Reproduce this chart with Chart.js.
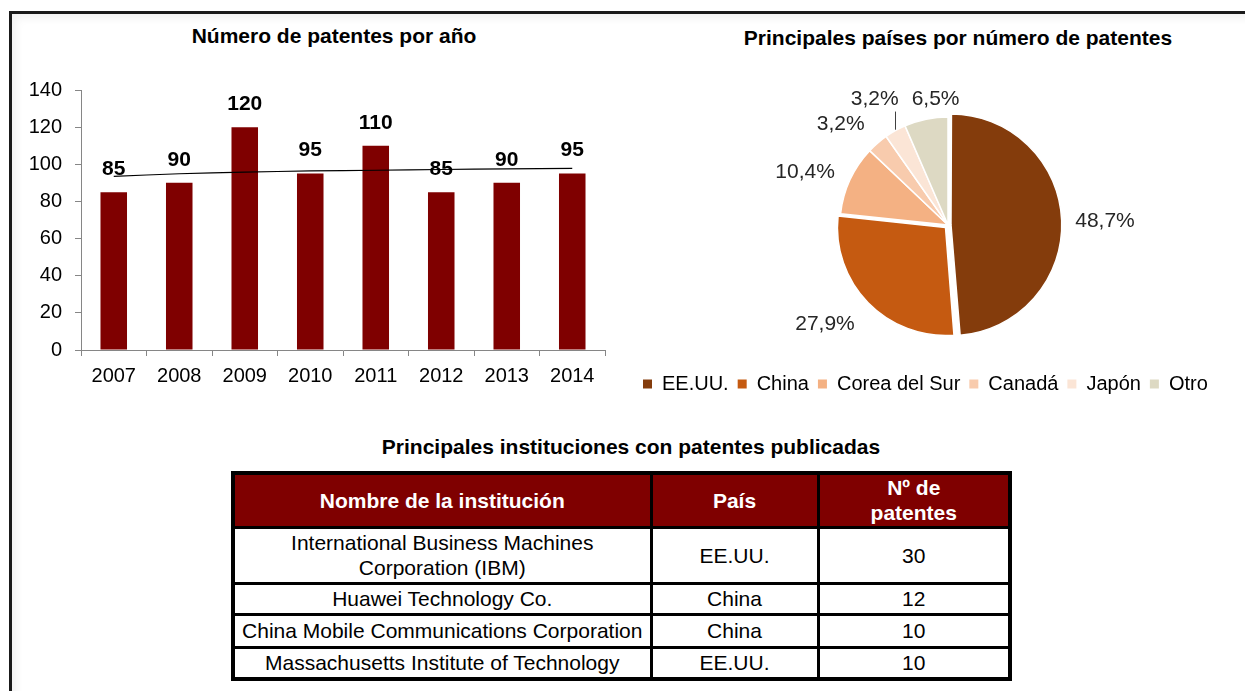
<!DOCTYPE html>
<html lang="es">
<head>
<meta charset="utf-8">
<title>Patentes</title>
<script src="https://cdn.jsdelivr.net/npm/chart.js@4.4.1/dist/chart.umd.min.js"></script>
<style>
  html, body { margin: 0; padding: 0; background: #fff; }
  body { width: 1245px; height: 691px; overflow: hidden; position: relative;
         font-family: "Liberation Sans", Arial, sans-serif; color: #000; }
  #frame { position: absolute; left: 9px; top: 11px; width: 1260px; height: 700px;
           border-top: 3px solid #1a1a1a; border-left: 3px solid #1a1a1a;
           box-shadow: inset 4px 4px 8px rgba(0, 0, 0, 0.06); }
  .title { position: absolute; width: 600px; text-align: center; font-weight: bold;
           font-size: 21px; line-height: 24px; white-space: nowrap; }
  .box { position: absolute; }
  table { position: absolute; left: 231px; top: 471px; width: 777px; border-collapse: collapse;
          border: 4px solid #000; font-size: 21px; table-layout: fixed; }
  th, td { border: 3px solid #000; text-align: center; padding: 0 1px; line-height: 25px;
           white-space: nowrap; }
  th { background: #7f0000; color: #fff; font-weight: bold; }
  td.wrap { white-space: normal; }
</style>
</head>
<body>
<div id="frame"></div>

<div class="title" style="left:34px; top:24px;">Número de patentes por año</div>
<div class="title" style="left:658px; top:26px;">Principales países por número de patentes</div>
<div class="title" style="left:331px; top:435px;">Principales instituciones con patentes publicadas</div>

<div class="box" style="left:20px; top:60px;"><canvas id="barChart" width="628" height="330"></canvas></div>
<div class="box" style="left:634px; top:60px;"><canvas id="pieChart" width="628" height="344"></canvas></div>

<table id="instTable">
  <colgroup><col style="width:418px"><col style="width:167px"><col style="width:192px"></colgroup>
  <thead>
    <tr style="height:54px"><th>Nombre de la institución</th><th>País</th><th>Nº de<br>patentes</th></tr>
  </thead>
  <tbody id="instBody"></tbody>
</table>

<script>
// Número de patentes por año
const years = ['2007', '2008', '2009', '2010', '2011', '2012', '2013', '2014'];
const patents = [85, 90, 120, 95, 110, 85, 90, 95];
const trend = [93.5, 94.9, 95.8, 96.4, 96.8, 97.2, 97.5, 97.8]; // línea de tendencia
const yTicks = [0, 20, 40, 60, 80, 100, 120, 140];

// Principales países
const countries = ['EE.UU.', 'China', 'Corea del Sur', 'Canadá', 'Japón', 'Otro'];
const shares = [48.7, 27.9, 10.4, 3.2, 3.2, 6.5];

// Principales instituciones
const institutions = [
    'International Business Machines Corporation (IBM)',
    'Huawei Technology Co.',
    'China Mobile Communications Corporation',
    'Massachusetts Institute of Technology'
];
const instCountries = ['EE.UU.', 'China', 'China', 'EE.UU.'];
const instPatents = [30, 12, 10, 10];

const FONT = '"Liberation Sans", Arial, sans-serif';
Chart.defaults.font.family = FONT;
Chart.defaults.color = '#000';
Chart.defaults.animation = false;

const maroon = '#7f0000';
const axisGrey = '#868686';
const pieColors = ['#843c0c', '#c55a11', '#f4b183', '#f8cbad', '#fbe5d6', '#ddd9c3'];

// valores encima de cada barra
const barLabels = {
    id: 'barLabels',
    afterDatasetsDraw(chart) {
        const ctx = chart.ctx;
        const meta = chart.getDatasetMeta(0);
        ctx.save();
        ctx.font = 'bold 21px ' + FONT;
        ctx.fillStyle = '#000';
        ctx.textAlign = 'center';
        ctx.textBaseline = 'middle';
        meta.data.forEach((bar, i) => {
            ctx.fillText(String(patents[i]), bar.x, bar.y - 23);
        });
        ctx.restore();
    }
};

new Chart(document.getElementById('barChart'), {
    data: {
        labels: years,
        datasets: [
            {
                type: 'bar',
                data: patents,
                backgroundColor: maroon,
                categoryPercentage: 1,
                barPercentage: 0.405,
                order: 1
            },
            {
                type: 'line',
                data: trend,
                borderColor: '#000',
                borderWidth: 1.2,
                pointRadius: 0,
                tension: 0.3,
                fill: false,
                order: 0
            }
        ]
    },
    options: {
        responsive: false,
        layout: { padding: { top: 30, right: 43, left: 0, bottom: 0 } },
        plugins: { legend: { display: false }, tooltip: { enabled: false } },
        scales: {
            x: {
                offset: true,
                grid: { offset: true, drawOnChartArea: false, tickLength: 6, color: axisGrey },
                border: { color: axisGrey },
                ticks: { font: { size: 20 }, padding: 8, autoSkip: false, maxRotation: 0 },
                afterFit: s => { s.height = 40; }
            },
            y: {
                min: yTicks[0],
                max: yTicks[yTicks.length - 1],
                afterBuildTicks: s => { s.ticks = yTicks.map(v => ({ value: v })); },
                grid: { drawOnChartArea: false, tickLength: 6, color: axisGrey },
                border: { color: axisGrey },
                ticks: { font: { size: 20 }, padding: 13 },
                afterFit: s => { s.width = 61; }
            }
        }
    },
    plugins: [barLabels]
});

// porcentajes alrededor de la tarta
const pieLabels = {
    id: 'pieLabels',
    afterDatasetsDraw(chart, args, opts) {
        const ctx = chart.ctx;
        const meta = chart.getDatasetMeta(0);
        ctx.save();
        ctx.font = '21px ' + FONT;
        ctx.fillStyle = '#262626';
        ctx.strokeStyle = '#404040';
        ctx.lineWidth = 1;
        ctx.textAlign = 'center';
        ctx.textBaseline = 'middle';
        meta.data.forEach((arc, i) => {
            const p = arc.getProps(['x', 'y', 'startAngle', 'endAngle', 'outerRadius', 'circumference'], true);
            const mid = (p.startAngle + p.endAngle) / 2;
            const cos = Math.cos(mid), sin = Math.sin(mid);
            const off = (arc.options.offset || 0) / 4;
            const shift = off * (2 - Math.sin(Math.min(Math.PI, p.circumference)));
            const cx = p.x + cos * shift, cy = p.y + sin * shift;
            const text = shares[i].toFixed(1).replace('.', ',') + '%';
            const w = ctx.measureText(text).width;
            const r = p.outerRadius + opts.gap;
            const n = opts.nudges[i] || [0, 0];
            const lx = cx + r * cos + (w / 2) * cos + n[0];
            const ly = cy + r * sin + 10.5 * sin + n[1];
            ctx.fillText(text, lx, ly);
            if (opts.leaders.includes(i)) {
                const ex = cx + p.outerRadius * cos;
                const ey = cy + p.outerRadius * sin;
                ctx.beginPath();
                ctx.moveTo(Math.round(ex) + 0.5, ey - 1);
                ctx.lineTo(Math.round(ex) + 0.5, ly + 12);
                ctx.stroke();
            }
        });
        ctx.restore();
    }
};

new Chart(document.getElementById('pieChart'), {
    type: 'pie',
    data: {
        labels: countries,
        datasets: [{
            data: shares,
            backgroundColor: pieColors,
            borderColor: '#fff',
            borderWidth: 1.5,
            offset: [12, 14, 0, 0, 0, 0],
            radius: 108
        }]
    },
    options: {
        responsive: false,
        layout: { padding: { top: 25 } },
        plugins: {
            tooltip: { enabled: false },
            legend: {
                position: 'bottom',
                align: 'start',
                labels: {
                    boxWidth: 9,
                    boxHeight: 9,
                    padding: 9,
                    font: { size: 20 },
                    generateLabels: chart => Chart.overrides.pie.plugins.legend.labels.generateLabels(chart)
                        .map(item => Object.assign(item, { lineWidth: 0, strokeStyle: item.fillStyle }))
                }
            },
            pieLabels: {
                gap: 8,
                nudges: [[5.6, 1], [-16, 8], [-10.6, 0], [-16, -5], [-5, -15], [16, -1.5]],
                leaders: [4]
            }
        }
    },
    plugins: [pieLabels]
});

// tabla de instituciones
const rowHeights = [56, 31, 33, 32];
const tbody = document.getElementById('instBody');
institutions.forEach((name, i) => {
    const tr = document.createElement('tr');
    tr.style.height = rowHeights[i] + 'px';
    const c1 = document.createElement('td');
    c1.textContent = name;
    if (name.length > 45) {
        c1.className = 'wrap';
        c1.style.padding = '0 40px';
    }
    const c2 = document.createElement('td');
    c2.textContent = instCountries[i];
    const c3 = document.createElement('td');
    c3.textContent = instPatents[i];
    tr.append(c1, c2, c3);
    tbody.appendChild(tr);
});
</script>
</body>
</html>
